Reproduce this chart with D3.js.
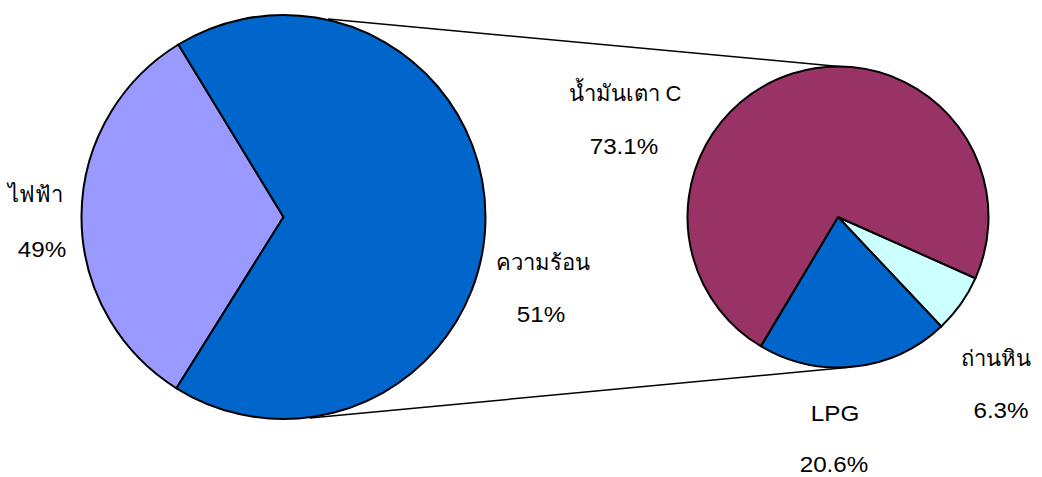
<!DOCTYPE html>
<html><head><meta charset="utf-8">
<script src="https://cdn.jsdelivr.net/npm/d3@7"></script>
<style>body{margin:0;background:#fff}svg{display:block}</style>
</head><body>
<svg id="c" width="1042" height="477"></svg>
<script>
// Main pie (shares as drawn in the picture) and its labels
const mainCategories = ["ไฟฟ้า", "ความร้อน"];
const mainLabels = ["49%", "51%"];
const mainShares = [32.4, 67.6];
const mainColors = ["#9999FF", "#0066CC"];
// Secondary pie (breakdown of ความร้อน)
const subCategories = ["ถ่านหิน", "LPG", "น้ำมันเตา C"];
const subValues = [6.3, 20.6, 73.1];
const subLabels = ["6.3%", "20.6%", "73.1%"];
const subColors = ["#CCFFFF", "#0066CC", "#993366"];

const svg = d3.select("#c");
const font = "'Liberation Sans', Arial, 'Noto Sans', sans-serif";
const deg = Math.PI / 180;

// connector lines
svg.append("line").attr("x1", 328).attr("y1", 19).attr("x2", 855).attr("y2", 68)
  .attr("stroke", "#000").attr("stroke-width", 1.5);
svg.append("line").attr("x1", 310).attr("y1", 418).attr("x2", 852).attr("y2", 367)
  .attr("stroke", "#000").attr("stroke-width", 1.5);

function drawPie(cx, cy, r, values, colors, startDeg) {
  const pie = d3.pie().sort(null).value(d => d)
    .startAngle(startDeg * deg).endAngle((startDeg + 360) * deg);
  const arc = d3.arc().innerRadius(0).outerRadius(r);
  const g = svg.append("g").attr("transform", `translate(${cx},${cy})`);
  g.selectAll("path").data(pie(values)).join("path")
    .attr("d", arc).attr("fill", (d, i) => colors[i])
    .attr("stroke", "#000").attr("stroke-width", 2).attr("stroke-linejoin", "round");
}

drawPie(283.5, 217, 202, mainShares, mainColors, 212);
drawPie(838, 217, 150.5, subValues, subColors, 114);

// labels
const labelPos = {
  "ไฟฟ้า": [35, 202, 42, 257],
  "ความร้อน": [543, 270, 541, 322],
  "ถ่านหิน": [996, 366, 1001, 418],
  "LPG": [835, 421, 834, 472],
  "น้ำมันเตา C": [625, 101, 624, 154]
};
function txt(x, y, s, sx) {
  svg.append("text").attr("transform", `translate(${x},${y}) scale(${sx},1)`)
    .attr("text-anchor", "middle")
    .attr("font-family", font).attr("font-size", 22).attr("fill", "#000").text(s);
}
function label(name, pct) {
  const p = labelPos[name];
  txt(p[0], p[1], name, /[\u0E00-\u0E7F]/.test(name) ? 1.0 : 1.1);
  txt(p[2], p[3], pct, 1.1);
}
mainCategories.forEach((c, i) => label(c, mainLabels[i]));
subCategories.forEach((c, i) => label(c, subLabels[i]));
</script>
</body></html>
